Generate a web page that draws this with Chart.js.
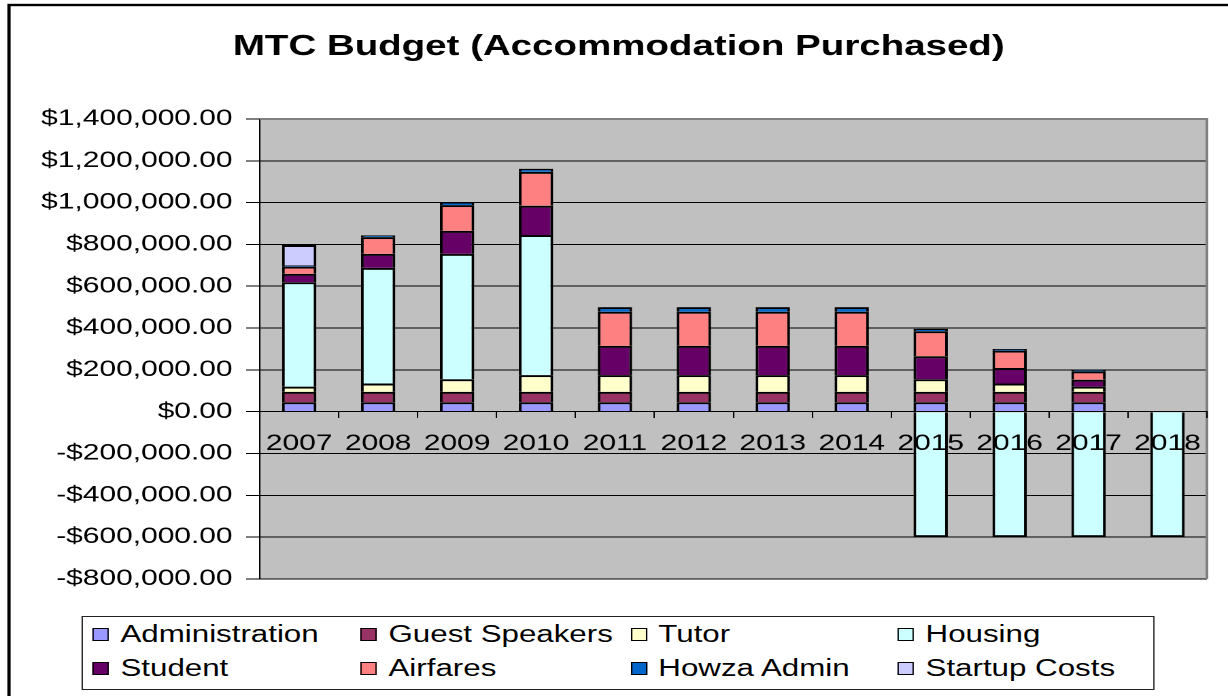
<!DOCTYPE html>
<html>
<head>
<meta charset="utf-8">
<script src="https://cdn.jsdelivr.net/npm/chart.js@4.4.1/dist/chart.umd.min.js"></script>
<style>
  html, body { margin: 0; padding: 0; background: #fff; overflow: hidden; }
  /* the original picture is stretched sideways, so the whole chart is too */
  #wrap { position: absolute; left: 0; top: 0; width: 903px; height: 696px; transform: scaleX(1.3599); transform-origin: 0 0; }
  #c { position: absolute; left: 0; top: 0; }
  #legend { position: absolute; left: 59.6px; top: 616px; width: 789px; height: 74px; border: 1px solid #222; background: #fff; box-sizing: border-box; }
  .item { position: absolute; font: 23px "Liberation Sans", Arial, sans-serif; color: #000; white-space: nowrap; line-height: 26px; }
  .item i { position: absolute; left: 0; top: 6.5px; width: 10px; height: 11px; border: 1.5px solid #000; }
  .item span { position: absolute; left: 20.5px; top: 0; }
</style>
</head>
<body>
<div id="wrap">
  <canvas id="c" width="903" height="696"></canvas>
  <div id="legend"></div>
</div>
<script>
const years = ["2007", "2008", "2009", "2010", "2011", "2012", "2013", "2014", "2015", "2016", "2017", "2018"];
const administration = [45000, 45000, 45000, 45000, 45000, 45000, 45000, 45000, 45000, 45000, 45000, 0];
const guestSpeakers = [50000, 50000, 50000, 50000, 50000, 50000, 50000, 50000, 50000, 50000, 50000, 0];
const tutor = [25000, 40000, 60000, 80000, 80000, 80000, 80000, 80000, 60000, 40000, 25000, 0];
const housing = [499000, 553000, 600000, 670000, 0, 0, 0, 0, -600000, -600000, -600000, -600000];
const student = [40000, 67000, 110000, 140000, 140000, 140000, 140000, 140000, 110000, 74000, 33000, 0];
const airfares = [35000, 80000, 123000, 162000, 163000, 163000, 163000, 163000, 120000, 83000, 40000, 0];
const howzaAdmin = [5000, 8000, 15000, 15000, 22000, 22000, 22000, 22000, 12000, 8000, 7000, 0];
const startupCosts = [98000, 0, 0, 0, 0, 0, 0, 0, 0, 0, 0, 0];

const series = [
    { label: "Administration", data: administration, color: "#9999FF" },
    { label: "Guest Speakers", data: guestSpeakers, color: "#993366" },
    { label: "Tutor", data: tutor, color: "#FFFFCC" },
    { label: "Housing", data: housing, color: "#CCFFFF" },
    { label: "Student", data: student, color: "#660066" },
    { label: "Airfares", data: airfares, color: "#FF8080" },
    { label: "Howza Admin", data: howzaAdmin, color: "#0066CC" },
    { label: "Startup Costs", data: startupCosts, color: "#CCCCFF" }
];

const fam = '"Liberation Sans", Arial, sans-serif';

function money(v) {
    const s = "$" + Math.abs(v).toLocaleString("en-US", { minimumFractionDigits: 2, maximumFractionDigits: 2 });
    return v < 0 ? "-" + s : s;
}

// grey plot area, outer frame and plot border
const fondo = {
    id: "fondo",
    beforeDraw(chart) {
        const { ctx, chartArea: a } = chart;
        ctx.save();
        ctx.fillStyle = "#fff";
        ctx.fillRect(0, 0, chart.width, chart.height);
        ctx.fillStyle = "#C0C0C0";
        ctx.fillRect(a.left, a.top, a.right - a.left, a.bottom - a.top);
        ctx.restore();
    },
    beforeDatasetsDraw(chart) {
        const { ctx, chartArea: a } = chart;
        ctx.save();
        ctx.strokeStyle = "#808080";
        ctx.lineWidth = 2;
        ctx.beginPath();
        ctx.moveTo(a.left, a.top);
        ctx.lineTo(a.right, a.top);
        ctx.lineTo(a.right, a.bottom);
        ctx.stroke();
        ctx.restore();
    },
    afterDraw(chart) {
        const ctx = chart.ctx;
        ctx.save();
        ctx.strokeStyle = "#000";
        ctx.lineWidth = 2.4;
        ctx.strokeRect(6.6, 5, 2000, 2000);
        ctx.restore();
    }
};

const ctx = document.getElementById("c").getContext("2d");
new Chart(ctx, {
    type: "bar",
    data: {
        labels: years,
        datasets: series.map(s => ({
            label: s.label,
            data: s.data,
            backgroundColor: s.color,
            borderColor: "#000",
            borderWidth: 2,
            barPercentage: 0.435,
            categoryPercentage: 1
        }))
    },
    options: {
        responsive: false,
        devicePixelRatio: 2,
        animation: false,
        layout: { padding: { left: 22.5, right: 15.5, top: 0, bottom: 117 } },
        plugins: {
            legend: { display: false },
            tooltip: { enabled: false },
            title: {
                display: true,
                text: "MTC Budget (Accommodation Purchased)",
                color: "#000",
                font: { family: fam, size: 28.3, weight: "bold" },
                padding: { top: 30, bottom: 55 }
            }
        },
        scales: {
            x: {
                stacked: true,
                position: { y: 0 },
                offset: true,
                grid: { display: true, drawOnChartArea: false, drawTicks: true, tickLength: 6, color: "#000", offset: true, z: 1 },
                border: { display: true, color: "#000", width: 1, z: 1 },
                ticks: { color: "#000", font: { family: fam, size: 22 }, padding: 13, maxRotation: 0, autoSkip: false, z: 1 }
            },
            y: {
                stacked: true,
                min: -800000,
                max: 1400000,
                afterFit(scale) { scale.width = 168.5; },
                grid: { color: "#000", lineWidth: 1, drawTicks: true, tickLength: 10 },
                border: { display: true, color: "#000", width: 1 },
                ticks: {
                    stepSize: 200000,
                    color: "#000",
                    padding: 10,
                    font: { family: fam, size: 22 },
                    callback: v => money(v)
                }
            }
        }
    },
    plugins: [fondo]
});

// legend laid out in the same 4 columns x 2 rows as the picture
const legend = document.getElementById("legend");
const colX = [7.5, 204.6, 403, 599.5];
const rowY = [4, 38];
series.forEach((s, i) => {
    const d = document.createElement("div");
    d.className = "item";
    d.style.left = colX[i % 4] + "px";
    d.style.top = rowY[Math.floor(i / 4)] + "px";
    d.innerHTML = '<i style="background:' + s.color + '"></i><span>' + s.label + "</span>";
    legend.appendChild(d);
});
</script>
</body>
</html>
